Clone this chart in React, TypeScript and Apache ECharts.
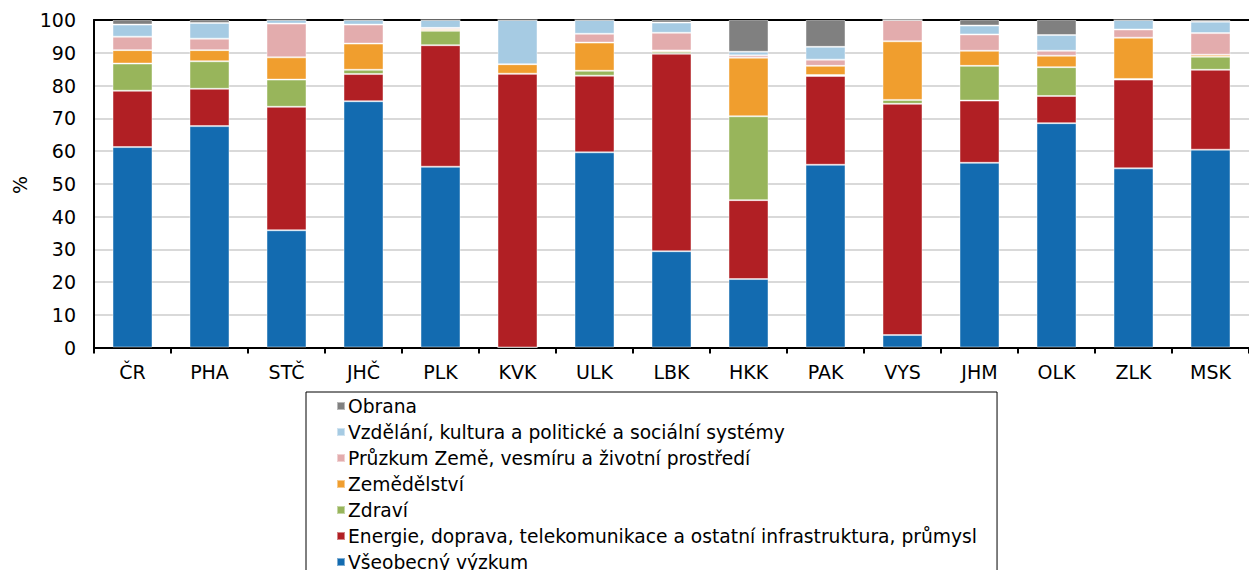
import React, { useEffect, useRef } from "react";
import * as echarts from "echarts";

const categories = ["ČR", "PHA", "STČ", "JHČ", "PLK", "KVK", "ULK", "LBK", "HKK", "PAK", "VYS", "JHM", "OLK", "ZLK", "MSK"];

const vseobecny = [61.2, 67.6, 35.8, 75.2, 55.2, 0, 59.6, 29.4, 20.9, 55.8, 3.8, 56.4, 68.5, 54.7, 60.4];
const energie = [17.2, 11.4, 37.7, 8.3, 37.1, 83.6, 23.4, 60.3, 24.1, 27.1, 70.6, 19.0, 8.3, 27.1, 24.4];
const zdravi = [8.3, 8.4, 8.3, 1.3, 4.4, 0, 1.5, 0.6, 25.6, 0.3, 1.2, 10.6, 8.8, 0.2, 4.0];
const zemedelstvi = [4.1, 3.4, 6.8, 8.0, 0.5, 2.9, 8.6, 0.4, 17.9, 2.8, 17.9, 4.6, 3.5, 12.6, 0.6];
const pruzkum = [4.1, 3.5, 10.3, 5.8, 0.4, 0, 2.7, 5.4, 0.7, 1.9, 6.5, 5.0, 1.5, 2.5, 6.6];
const vzdelani = [3.7, 4.8, 1.1, 1.4, 2.4, 13.5, 4.2, 3.1, 1.1, 3.9, 0, 2.7, 4.8, 2.9, 3.5];
const obrana = [1.4, 0.9, 0, 0, 0, 0, 0, 0.8, 9.7, 8.2, 0, 1.7, 4.6, 0, 0.5];

const yTicks = [0, 10, 20, 30, 40, 50, 60, 70, 80, 90, 100];

const seriesDefs = [
  { name: "Všeobecný výzkum", data: vseobecny, color: "#136bb0" },
  { name: "Energie, doprava, telekomunikace a ostatní infrastruktura, průmysl", data: energie, color: "#b11f24" },
  { name: "Zdraví", data: zdravi, color: "#98b55b" },
  { name: "Zemědělství", data: zemedelstvi, color: "#f09e2e" },
  { name: "Průzkum Země, vesmíru a životní prostředí", data: pruzkum, color: "#e3acad" },
  { name: "Vzdělání, kultura a politické a sociální systémy", data: vzdelani, color: "#a6cbe3" },
  { name: "Obrana", data: obrana, color: "#808080" },
];

const FONT = "DejaVu Sans, Liberation Sans, Arial, sans-serif";
const FS = 19;
const LEGEND_FS = 18.7;

export default function App() {
  const ref = useRef<HTMLDivElement>(null);
  useEffect(() => {
    document.body.style.margin = "0";
    if (!ref.current) return;
    const chart = echarts.init(ref.current, null, { renderer: "svg" });
    chart.setOption({
      animation: false,
      textStyle: { fontFamily: FONT },
      grid: { left: 94, right: -8, top: 20, bottom: 222.5, containLabel: false },
      xAxis: [
        {
          type: "category",
          data: categories,
          axisLine: { show: true, lineStyle: { color: "#000", width: 2 } },
          axisTick: { show: true, length: 6, lineStyle: { color: "#000", width: 2 } },
          axisLabel: { color: "#000", fontSize: FS, fontFamily: FONT, margin: 15 },
          splitLine: { show: false },
        },
        {
          type: "category",
          data: categories,
          position: "top",
          axisLine: { show: true, lineStyle: { color: "#000", width: 2 } },
          axisTick: { show: false },
          axisLabel: { show: false },
        },
      ],
      yAxis: {
        type: "value",
        min: yTicks[0],
        max: yTicks[yTicks.length - 1],
        interval: 10,
        axisLine: { show: true, lineStyle: { color: "#000", width: 2 } },
        axisTick: { show: false },
        axisLabel: { color: "#000", fontSize: FS, fontFamily: FONT, margin: 18 },
        splitLine: { show: true, lineStyle: { color: "#d9d9d9", width: 2 } },
      },
      legend: {
        orient: "vertical",
        left: 306,
        top: 392,
        height: 260,
        data: seriesDefs.map((s) => s.name).reverse(),
        icon: "rect",
        itemWidth: 8,
        itemHeight: 8,
        itemGap: 6,
        padding: [4, 20, 40, 30],
        borderColor: "#000",
        borderWidth: 1,
        selectedMode: false,
        textStyle: { color: "#000", fontSize: LEGEND_FS, fontFamily: FONT, lineHeight: 20, padding: [0, 0, 0, -2] },
      },
      graphic: [
        {
          type: "text",
          x: 20,
          y: 185,
          rotation: Math.PI / 2,
          style: { text: "%", fontSize: FS, fontFamily: FONT, fill: "#000", align: "center", verticalAlign: "middle" },
        },
      ],
      series: seriesDefs.map((s) => ({
        type: "bar",
        name: s.name,
        stack: "total",
        data: s.data,
        barWidth: 40,
        itemStyle: { color: s.color, borderColor: "rgba(255,255,255,0.45)", borderWidth: 1 },
      })),
    });
    return () => chart.dispose();
  }, []);
  return <div ref={ref} style={{ width: 1249, height: 570 }} />;
}
